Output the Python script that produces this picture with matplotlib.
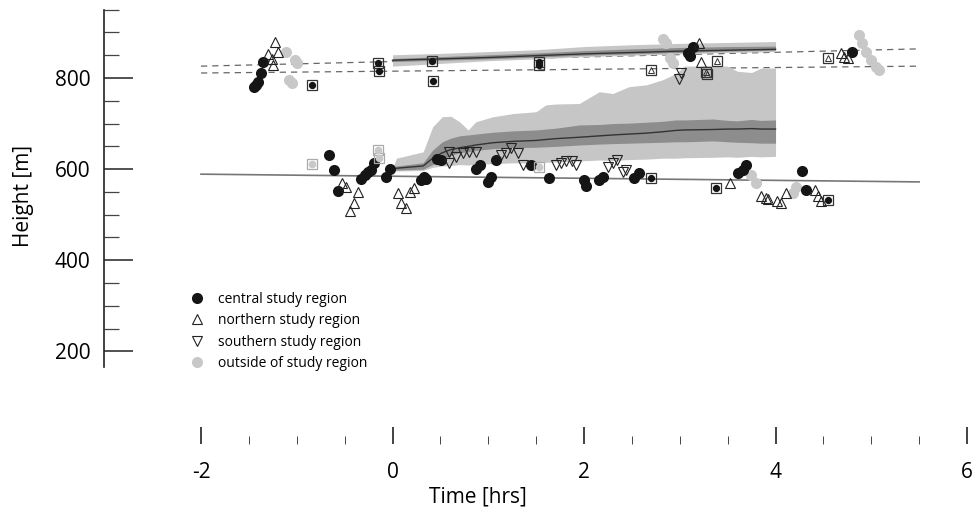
import matplotlib
matplotlib.use("Agg")
import matplotlib.pyplot as plt
import numpy as np

plt.rcParams["font.family"] = ["Open Sans", "DejaVu Sans"]
plt.rcParams["axes.unicode_minus"] = False

# reference lines (start/end of fit)
t_ref = [-2.0, 5.5]
ref_low = [589, 572]
dash_hi = [826, 864]
dash_lo = [811, 826]

# lower ensemble band
t_band = [0.0, 0.04, 0.32, 0.42, 0.52, 0.61, 0.70, 0.79, 0.87, 1.05, 1.26, 1.5, 1.6, 1.71,
          1.95, 2.16, 2.3, 2.47, 2.65, 2.82, 2.96, 3.05, 3.35, 3.5, 3.6, 3.75, 3.85, 4.0]
light_top = [600, 624, 638, 693, 715, 716, 704, 686, 704, 715, 722, 726, 741, 743,
             744, 770, 766, 781, 785, 796, 810, 826, 827, 826, 815, 812, 822, 822]
light_bot = [598, 596, 597, 604, 607, 608, 610, 609, 611, 612, 614, 613, 615, 616,
             618, 620, 619, 621, 622, 624, 624, 625, 626, 627, 626, 628, 627, 628]
dark_top = [601, 607, 614, 642, 660, 668, 673, 675, 677, 681, 684, 686, 688, 690,
            697, 698, 700, 701, 703, 705, 708, 708, 710, 707, 706, 709, 707, 708]
dark_bot = [599, 598, 600, 610, 622, 630, 636, 638, 641, 645, 647, 648, 649, 650,
            653, 655, 656, 657, 658, 659, 660, 660, 662, 660, 659, 658, 657, 657]
median = [600, 602, 607, 624, 636, 643, 647, 650, 653, 658, 661, 663, 665, 667,
          670, 673, 675, 677, 679, 682, 685, 686, 687, 688, 688, 689, 688, 688]

# upper band
t_up = [0.0, 0.5, 1.0, 1.5, 2.0, 2.5, 3.0, 3.5, 4.0]
up_line = [839, 842, 845, 849, 853, 856, 859, 861, 863]
up_light_top = [851, 854, 858, 862, 869, 873, 876, 878, 880]
up_light_bot = [826, 832, 838, 842, 847, 850, 853, 856, 858]
up_dark_top = [843, 847, 851, 855, 860, 864, 867, 869, 870]
up_dark_bot = [836, 839, 842, 846, 850, 853, 856, 859, 861]

# observations
central_t = [-1.355, -1.37, -1.405, -1.43, -1.45, 3.136, 3.084, 3.11, 4.797,
             -0.658, -0.616, -0.571, -0.327, -0.29, -0.258, -0.223, -0.195, -0.073, -0.031,
             0.30, 0.334, 0.35, 0.463, 0.508, 0.874, 0.909, 0.995, 1.03, 1.076, 1.449, 1.63,
             2.005, 2.02, 2.16, 2.196, 2.527, 2.573, 3.606, 3.66, 3.694, 4.275, 4.313]
central_h = [836, 812, 791, 785, 781, 869, 854, 848, 858,
             631, 598, 553, 578, 587, 594, 598, 614, 582, 600,
             576, 583, 578, 622, 620, 600, 609, 572, 583, 621, 609, 581,
             576, 564, 576, 583, 580, 591, 591, 598, 609, 597, 554]

north_t = [-1.222, -1.30, -1.198, -1.256, -1.25, 3.196, 3.217, 4.686, 4.72, 4.755,
           -0.53, -0.484, -0.362, -0.407, -0.449, 0.056, 0.09, 0.136, 0.178, 0.223,
           3.527, 3.85, 3.90, 3.92, 4.02, 4.06, 4.11, 4.41, 4.44, 4.477]
north_h = [880, 852, 856, 841, 828, 876, 836, 854, 847, 845,
           570, 561, 550, 526, 509, 547, 526, 514, 550, 558,
           569, 540, 536, 535, 529, 525, 547, 554, 540, 529]

south_t = [0.585, 0.595, 0.665, 0.734, 0.804, 0.874, 1.136, 1.19, 1.24, 1.31, 1.36,
           1.71, 1.76, 1.81, 1.87, 1.92, 2.25, 2.30, 2.34, 2.41, 2.44, 3.015, 2.99]
south_h = [614, 638, 627, 635, 638, 638, 631, 635, 646, 635, 609,
           609, 613, 617, 617, 609, 605, 613, 620, 594, 598, 812, 797]

outside_t = [-1.117, -1.02, -1.0, -1.076, -1.047, 2.823, 2.858, 2.893, 2.93,
             4.87, 4.905, 4.947, 4.999, 5.05, 5.076, 3.746, 3.80, 4.216, 4.18]
outside_h = [856, 840, 834, 796, 790, 885, 876, 843, 832,
             894, 876, 858, 840, 825, 818, 587, 569, 561, 547]

# boxed observations
box_dot_t = [-0.843, -0.149, -0.139, 0.41, 0.418, 1.528, 1.528, 2.70, 3.38, 4.546]
box_dot_h = [785, 834, 816, 837, 794, 836, 828, 580, 558, 532]
box_grey_t = [-0.843, -0.149, -0.136, 1.535]
box_grey_h = [611, 643, 624, 605]
box_tri_t = [2.70, 3.27, 3.28, 3.387, 4.546]
box_tri_h = [817, 814, 808, 837, 845]

fig = plt.figure(figsize=(9.77, 5.13), dpi=100)
ax = fig.add_axes([0, 0, 1, 1])
ax.set_xlim(-4.099, 6.104)
ax.set_ylim(-154.6, 971.2)

ax.plot(t_ref, dash_hi, color="#666666", lw=0.9, ls=(0, (5, 4)), zorder=1)
ax.plot(t_ref, dash_lo, color="#666666", lw=0.9, ls=(0, (5, 4)), zorder=1)
ax.plot(t_ref, ref_low, color="#777777", lw=1.2, zorder=1)

ax.fill_between(t_band, light_bot, light_top, color="#c6c6c6", lw=0, zorder=2)
ax.fill_between(t_band, dark_bot, dark_top, color="#8d8d8d", lw=0, zorder=3)
ax.plot(t_band, median, color="#333333", lw=1.0, zorder=4)

ax.fill_between(t_up, up_light_bot, up_light_top, color="#c6c6c6", lw=0, zorder=2)
ax.fill_between(t_up, up_dark_bot, up_dark_top, color="#8d8d8d", lw=0, zorder=3)
ax.plot(t_up, up_line, color="#333333", lw=1.0, zorder=4)

ax.plot(outside_t, outside_h, "o", ms=8, color="#c8c8c8", mec="none", ls="none",
        zorder=5, label="outside of study region")
ax.plot(central_t, central_h, "o", ms=8, color="#151515", mec="none", ls="none",
        zorder=6, label="central study region")
ax.plot(north_t, north_h, "^", ms=7.5, mfc="none", mec="#222222", mew=0.8, ls="none",
        zorder=7, label="northern study region")
ax.plot(south_t, south_h, "v", ms=7.5, mfc="none", mec="#222222", mew=0.8, ls="none",
        zorder=7, label="southern study region")

ax.plot(box_dot_t, box_dot_h, "s", ms=7.5, mfc="none", mec="#333333", mew=0.9, ls="none", zorder=7)
ax.plot(box_dot_t, box_dot_h, "o", ms=4.2, color="#151515", ls="none", zorder=8)
ax.plot(box_grey_t, box_grey_h, "s", ms=7.5, mfc="none", mec="#aaaaaa", mew=0.9, ls="none", zorder=7)
ax.plot(box_grey_t, box_grey_h, "o", ms=4.5, color="#c8c8c8", ls="none", zorder=8)
ax.plot(box_tri_t, box_tri_h, "s", ms=7.5, mfc="none", mec="#333333", mew=0.9, ls="none", zorder=7)
ax.plot(box_tri_t, box_tri_h, "^", ms=4.2, mfc="none", mec="#333333", mew=0.7, ls="none", zorder=8)

# axes
for side in ["top", "right"]:
    ax.spines[side].set_visible(False)
ax.spines["left"].set_position(("data", -3.01))
ax.spines["left"].set_bounds(165, 950)
ax.spines["left"].set_linewidth(1.2)
ax.spines["left"].set_color("#222222")
ax.spines["bottom"].set_position(("data", -3))
ax.spines["bottom"].set_visible(False)

ax.set_yticks([200, 400, 600, 800])
ax.set_yticks(np.arange(200, 951, 50), minor=True)
ax.set_xticks([-2, 0, 2, 4, 6])
ax.set_xticks(np.arange(-2, 6.01, 0.5), minor=True)
ax.tick_params(axis="y", which="major", direction="in", length=21, width=1.1,
               color="#222222", pad=10, labelsize=15)
ax.tick_params(axis="y", which="minor", direction="in", length=11, width=0.9, color="#444444")
ax.tick_params(axis="x", which="major", direction="in", length=12, width=1.2,
               color="#222222", pad=13, labelsize=15)
ax.tick_params(axis="x", which="minor", direction="in", length=5.5, width=0.7, color="#444444")

fig.text(478 / 977, 1 - 497 / 513, "Time [hrs]", ha="center", va="center", fontsize=15)
fig.text(23 / 977, 1 - 196 / 513, "Height [m]", ha="center", va="center", rotation=90, fontsize=15)

handles, labels = ax.get_legend_handles_labels()
order = [1, 2, 3, 0]
ax.legend([handles[i] for i in order], [labels[i] for i in order],
          loc="upper left", bbox_to_anchor=(190 / 977, 1 - 292 / 513), frameon=False,
          fontsize=10, handlelength=1.0, handletextpad=1.0, labelspacing=0.45,
          markerscale=1.0, borderpad=0, borderaxespad=0)

fig.savefig("out.png", dpi=100)
